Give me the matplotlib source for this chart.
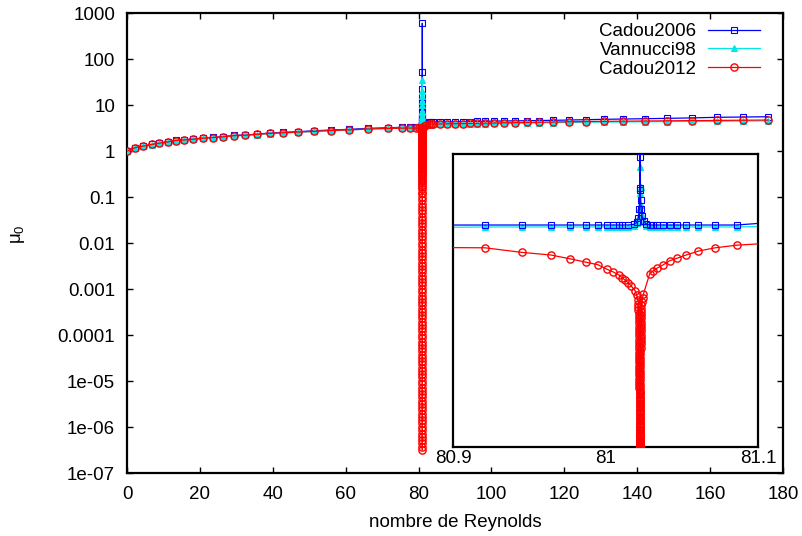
import matplotlib
matplotlib.use('Agg')
import matplotlib.pyplot as plt
import numpy as np

# smooth part of the curves, shared Reynolds numbers
re_far_left = [0, 2.2, 4.4, 6.8, 8.8, 11.2, 13.4, 15.6, 18.1, 20.8, 23.6, 26.3, 29.4, 32.4,
               35.7, 39.2, 42.9, 47.0, 51.3, 56.0, 60.9, 66.1, 71.6, 75.5, 77.7, 79.3, 80.1, 80.6]
re_inset_left = [80.921, 80.945, 80.964, 80.977, 80.987, 80.995, 81.001, 81.005, 81.009, 81.011]
re_inset_right = [81.029, 81.031, 81.034, 81.038, 81.042, 81.047, 81.053, 81.061, 81.072, 81.086]
re_far_right = [81.4, 82.0, 82.8, 83.5, 84.0, 85.9, 87.8, 90.0, 92.2, 94.1, 96.0, 98.2, 100.7, 103.4,
                106.5, 109.8, 113.0, 116.9, 121.3, 125.9, 130.9, 136.1, 142.1, 148.2, 155.0, 161.9,
                169.0, 175.9]

c2006_far_left = [1.0, 1.18, 1.28, 1.40, 1.49, 1.59, 1.71, 1.76, 1.82, 1.92, 1.98, 2.05, 2.19, 2.23,
                  2.34, 2.46, 2.55, 2.63, 2.76, 2.86, 2.96, 3.11, 3.21, 3.27, 3.33, 3.37, 3.39, 3.40]
c2006_inset_left = [3.41, 3.41, 3.41, 3.41, 3.41, 3.41, 3.41, 3.41, 3.41, 3.41]
c2006_inset_right = [3.41, 3.41, 3.41, 3.41, 3.41, 3.41, 3.41, 3.41, 3.41, 3.41]
c2006_far_right = [3.95, 4.10, 4.18, 4.22, 4.25, 4.28, 4.30, 4.33, 4.36, 4.38, 4.40, 4.43, 4.47, 4.50,
                   4.53, 4.56, 4.60, 4.65, 4.72, 4.80, 4.89, 4.96, 5.04, 5.13, 5.25, 5.41, 5.48, 5.57]

v98_far_left = [1.0, 1.17, 1.27, 1.38, 1.47, 1.57, 1.68, 1.73, 1.79, 1.88, 1.94, 2.01, 2.14, 2.18,
                2.28, 2.39, 2.47, 2.55, 2.67, 2.76, 2.86, 3.00, 3.10, 3.16, 3.22, 3.26, 3.28, 3.30]
v98_inset_left = [3.38, 3.38, 3.38, 3.38, 3.38, 3.38, 3.38, 3.38, 3.38, 3.38]
v98_inset_right = [3.38, 3.38, 3.38, 3.38, 3.38, 3.38, 3.38, 3.38, 3.38, 3.38]
v98_far_right = [3.50, 3.65, 3.72, 3.76, 3.79, 3.82, 3.84, 3.86, 3.88, 3.90, 3.92, 3.95, 3.98, 4.01,
                 4.04, 4.07, 4.10, 4.14, 4.18, 4.22, 4.26, 4.30, 4.33, 4.37, 4.41, 4.45, 4.49, 4.52]

c2012_far_left = [1.0, 1.18, 1.28, 1.39, 1.48, 1.58, 1.69, 1.74, 1.80, 1.90, 1.96, 2.03, 2.16, 2.20,
                  2.30, 2.42, 2.50, 2.58, 2.70, 2.79, 2.88, 3.01, 3.10, 3.14, 3.16, 3.15, 3.13, 3.10]
c2012_inset_left = [3.06, 2.99, 2.95, 2.89, 2.84, 2.80, 2.73, 2.69, 2.64, 2.60]
c2012_inset_right = [2.66, 2.70, 2.75, 2.80, 2.86, 2.90, 2.95, 3.01, 3.06, 3.10]
c2012_far_right = [3.55, 3.70, 3.78, 3.82, 3.85, 3.88, 3.90, 3.92, 3.95, 3.98, 4.00, 4.03, 4.07, 4.10,
                   4.14, 4.18, 4.22, 4.27, 4.33, 4.38, 4.42, 4.46, 4.49, 4.54, 4.58, 4.63, 4.68, 4.72]

# refined points around the critical Reynolds number
re_spike = [81.015, 81.0185, 81.0205, 81.0216, 81.0222, 81.0224, 81.02250, 81.02255, 81.02258,
            81.0226, 81.02261, 81.022614, 81.02262, 81.02264, 81.02267, 81.0227, 81.02275, 81.0228,
            81.0230, 81.0234, 81.0240, 81.0250, 81.0265]
c2006_spike = [3.41, 3.42, 3.45, 3.52, 3.65, 3.98, 4.45, 5.5, 9.0, 15.0, 52.0, 600.0, 22.0, 11.7,
               7.0, 5.6, 4.8, 3.95, 3.8, 3.65, 3.55, 3.47, 3.43]
v98_spike = [3.38, 3.40, 3.44, 3.52, 3.66, 3.9, 4.3, 5.2, 7.5, 12.0, 20.0, 35.0, 16.0, 10.0,
             7.0, 5.8, 4.8, 4.3, 4.0, 3.72, 3.56, 3.46, 3.40]

# Cadou2012 drops to ~3e-7 at the critical point (dense sampling)
re_dip_left = [81.0130, 81.0150, 81.0170, 81.0195, 81.0205, 81.0212,
               81.02160, 81.02163, 81.02166, 81.02169, 81.02172, 81.02175, 81.02178, 81.02181,
               81.02184, 81.02187, 81.02190, 81.02193, 81.02196, 81.02199, 81.02202, 81.02205,
               81.02208, 81.02211, 81.02214, 81.02217, 81.02220, 81.02222, 81.02224, 81.02226,
               81.02228, 81.02230, 81.02232, 81.02234, 81.02236, 81.02238, 81.02240, 81.02242,
               81.02244, 81.02246, 81.02248, 81.02250, 81.02251, 81.02252, 81.02253, 81.02254,
               81.02255, 81.02256, 81.02257, 81.02258, 81.022585,
               81.022590, 81.022592, 81.022594, 81.022596, 81.022598, 81.022600, 81.022601,
               81.022602, 81.022603, 81.022604, 81.022605, 81.022606, 81.022607, 81.022608,
               81.022609, 81.022610, 81.0226105, 81.022611, 81.0226115, 81.022612, 81.0226125,
               81.022613, 81.0226135, 81.022614, 81.0226145, 81.022615, 81.0226155, 81.022616,
               81.0226165, 81.022617, 81.0226175, 81.022618, 81.0226185, 81.022619, 81.0226195,
               81.022620, 81.0226205, 81.022621]
c2012_dip_left = [2.56, 2.52, 2.47, 2.40, 2.33, 2.26,
                  2.20, 2.15, 2.10, 2.05, 2.00, 1.95, 1.90, 1.85, 1.80, 1.75,
                  1.70, 1.65, 1.60, 1.55, 1.50, 1.45, 1.40, 1.35, 1.30, 1.25,
                  1.20, 1.15, 1.10, 1.05, 1.00, 0.95, 0.90, 0.85, 0.80, 0.75,
                  0.70, 0.65, 0.60, 0.55, 0.50, 0.45, 0.40, 0.35, 0.30, 0.26,
                  0.22, 0.18, 0.15, 0.12, 0.10,
                  0.072, 0.052, 0.037, 0.027, 0.019, 0.014, 0.01,
                  0.0072, 0.0052, 0.0037, 0.0027, 0.0019, 0.0014, 0.001,
                  7.2e-4, 5.2e-4, 3.7e-4, 2.7e-4, 1.9e-4, 1.4e-4, 1e-4,
                  7.2e-5, 5.2e-5, 3.7e-5, 2.7e-5, 1.9e-5, 1.4e-5, 1e-5,
                  7.2e-6, 5.2e-6, 3.7e-6, 2.7e-6, 1.9e-6, 1.4e-6, 1e-6,
                  7.2e-7, 5.2e-7, 3.7e-7]
re_dip_right = [81.0226215, 81.022622, 81.0226225, 81.022623, 81.0226235, 81.022624, 81.0226245,
                81.022625, 81.0226255, 81.022626, 81.0226265, 81.022627, 81.0226275, 81.022628,
                81.0226285, 81.022629, 81.0226295, 81.022630, 81.022631, 81.022632, 81.022633,
                81.022634, 81.022635, 81.022636, 81.022637, 81.022638, 81.022640, 81.022642,
                81.022644, 81.022646, 81.022648, 81.022650, 81.022653, 81.022656, 81.022659,
                81.022662, 81.022665, 81.022668, 81.022671,
                81.022675, 81.02268, 81.022685, 81.02269, 81.022695, 81.0227, 81.02271, 81.02272,
                81.02273, 81.02274, 81.02275, 81.02276, 81.02277, 81.02278, 81.02279, 81.0228,
                81.02281, 81.02282, 81.02283, 81.02284, 81.02285, 81.02286, 81.02287, 81.02288,
                81.02289, 81.0229, 81.02292, 81.02294, 81.02296, 81.02298, 81.023, 81.02302,
                81.02304, 81.02306, 81.02308, 81.0231, 81.02313, 81.02316, 81.02319, 81.02322,
                81.0233, 81.0234, 81.0236, 81.0239, 81.0243, 81.0249]
c2012_dip_right = [3.2e-7, 4.4e-7, 6.1e-7, 8.5e-7, 1.2e-6, 1.65e-6, 2.3e-6, 3.2e-6, 4.4e-6, 6.1e-6,
                   8.5e-6, 1.2e-5, 1.65e-5, 2.3e-5, 3.2e-5, 4.4e-5, 6.1e-5, 8.5e-5, 1.2e-4, 1.65e-4,
                   2.3e-4, 3.2e-4, 4.4e-4, 6.1e-4, 8.5e-4, 1.2e-3, 1.65e-3, 2.3e-3, 3.2e-3, 4.4e-3,
                   6.1e-3, 8.5e-3, 0.012, 0.0165, 0.023, 0.032, 0.044, 0.061, 0.085,
                   0.125, 0.165, 0.20, 0.24, 0.28, 0.325, 0.375, 0.425, 0.475, 0.525,
                   0.575, 0.625, 0.675, 0.725, 0.775, 0.825, 0.875, 0.925, 0.975, 1.025,
                   1.075, 1.125, 1.175, 1.225, 1.275, 1.325, 1.375, 1.425, 1.475, 1.525,
                   1.575, 1.625, 1.675, 1.725, 1.775, 1.825, 1.875, 1.925, 1.975, 2.025,
                   2.075, 2.125, 2.175, 2.23, 2.29, 2.35]

x_ticks = [0, 20, 40, 60, 80, 100, 120, 140, 160, 180]
y_ticks = [1e-7, 1e-6, 1e-5, 1e-4, 1e-3, 1e-2, 1e-1, 1, 10, 100, 1000]
y_tick_labels = ['1e-07', '1e-06', '1e-05', '0.0001', '0.001', '0.01', '0.1', '1', '10', '100', '1000']
inset_ticks = [80.9, 81.0, 81.1]
inset_tick_labels = ['80.9', '81', '81.1']

plt.rcParams['font.family'] = ['Liberation Sans', 'DejaVu Sans']
plt.rcParams['mathtext.fontset'] = 'custom'
plt.rcParams['mathtext.rm'] = 'Liberation Sans'
plt.rcParams['mathtext.it'] = 'Liberation Sans'

FS = 13.5

series = [
    ('Cadou2006', '#0000ff', 's', 'none', 5.0, 0.8,
     [re_far_left, re_inset_left, re_spike, re_inset_right, re_far_right],
     [c2006_far_left, c2006_inset_left, c2006_spike, c2006_inset_right, c2006_far_right]),
    ('Vannucci98', '#00e8e8', '^', '#00e8e8', 4.0, 0.8,
     [re_far_left, re_inset_left, re_spike, re_inset_right, re_far_right],
     [v98_far_left, v98_inset_left, v98_spike, v98_inset_right, v98_far_right]),
    ('Cadou2012', '#ff0000', 'o', 'none', 5.2, 1.0,
     [re_far_left, re_inset_left, re_dip_left, re_dip_right, re_inset_right, re_far_right],
     [c2012_far_left, c2012_inset_left, c2012_dip_left, c2012_dip_right, c2012_inset_right,
      c2012_far_right]),
]


def draw(ax, zorders):
    for (label, color, marker, mfc, ms, mew, re_parts, mu_parts), z in zip(series, zorders):
        ax.plot(np.concatenate(re_parts), np.concatenate(mu_parts), color=color, lw=0.9,
                marker=marker, ms=ms, mfc=mfc, mec=color, mew=mew, label=label, zorder=z)


fig = plt.figure(figsize=(8.03, 5.36), dpi=100)
ax = fig.add_axes([0.1582, 0.1175, 0.8169, 0.8582])
draw(ax, [2, 3, 4])
ax.set_yscale('log')
ax.set_xlim(0, 180)
ax.set_ylim(1e-7, 1000)
ax.set_xticks(x_ticks)
ax.set_yticks(y_ticks)
ax.set_yticklabels(y_tick_labels)
ax.minorticks_off()
ax.tick_params(direction='in', length=4.5, width=1, top=True, right=True, labelsize=FS, pad=8.5)
ax.tick_params(axis='x', pad=9.5)
for s in ax.spines.values():
    s.set_linewidth(1.6)
ax.set_xlabel('nombre de Reynolds', fontsize=FS)
ax.set_ylabel(r'$\mu_0$', fontsize=FS)
ax.xaxis.set_label_coords(0.5, -0.09)
ax.yaxis.set_label_coords(-0.152, 0.52)

ax.legend(loc='upper right', bbox_to_anchor=(0.965, 0.978), frameon=False, fontsize=FS,
          markerfirst=False, handlelength=2.8, handletextpad=0.6, labelspacing=0.08,
          borderpad=0, borderaxespad=0)

ins = fig.add_axes([0.5641, 0.1660, 0.3798, 0.5466])
ins.set_facecolor('white')
draw(ins, [3, 2, 4])
ins.set_xlim(80.9, 81.1)
ins.set_ylim(0, 4.5)
ins.set_xticks(inset_ticks)
ins.set_xticklabels(inset_tick_labels)
ins.set_yticks([])
ins.tick_params(axis='x', length=0, labelsize=FS, pad=2.5)
for s in ins.spines.values():
    s.set_linewidth(1.6)

plt.savefig('out.png', dpi=100)
